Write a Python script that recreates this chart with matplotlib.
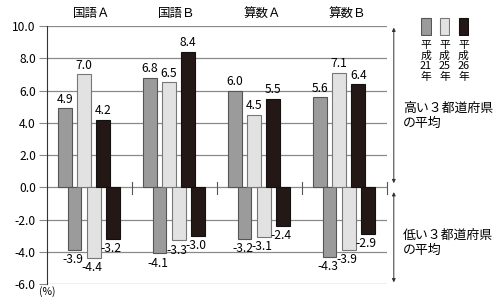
import numpy as np
import matplotlib.pyplot as plt

plt.rcParams['font.family'] = ['Noto Sans CJK JP', 'DejaVu Sans']

subjects = ['国語Ａ', '国語Ｂ', '算数Ａ', '算数Ｂ']
years = ['平\n成\n21\n年', '平\n成\n25\n年', '平\n成\n26\n年']
high = [[4.9, 6.8, 6.0, 5.6],    # 平成21年
        [7.0, 6.5, 4.5, 7.1],    # 平成25年
        [4.2, 8.4, 5.5, 6.4]]    # 平成26年
low = [[-3.9, -4.1, -3.2, -4.3],
       [-4.4, -3.3, -3.1, -3.9],
       [-3.2, -3.0, -2.4, -2.9]]
yticks = np.arange(-6, 10.1, 2)

colors = ['#9b9b9b', '#e2e2e2', '#231815']
edges = ['#555555', '#777777', '#111111']

fig = plt.figure(figsize=(5, 3), dpi=100)
ax = fig.add_axes([0.094, 0.0533, 0.68, 0.86])

x = np.arange(len(subjects))
w = 0.16
for k in range(3):
    xp = x + 0.21 + k * 0.226
    xn = x + 0.325 + k * 0.226
    ax.bar(xp, high[k], w, color=colors[k], edgecolor=edges[k], linewidth=0.8, zorder=3)
    ax.bar(xn, low[k], w, color=colors[k], edgecolor=edges[k], linewidth=0.8, zorder=3)
    for xi, v in zip(xp, high[k]):
        ax.text(xi, v + 0.15, f'{v:.1f}', ha='center', va='bottom', fontsize=8.7, zorder=4)
    for xi, v in zip(xn, low[k]):
        ax.text(xi - 0.02, v - 0.2, f'{v:.1f}', ha='center', va='top', fontsize=8.7, zorder=4)

for i, s in enumerate(subjects):
    ax.text(i + 0.53, 10.8, s, ha='center', va='center', fontsize=9)

# short marks on zero line between groups
for b in range(1, len(subjects) + 1):
    ax.plot([b, b], [0.3, -0.4], color='#555555', lw=0.8, zorder=2, clip_on=False)

ax.set_xlim(0, 4)
ax.set_ylim(-6, 10)
ax.set_yticks(yticks)
ax.set_yticklabels([f'{t:.1f}' for t in yticks], fontsize=8.7)
ax.set_xticks([])
ax.grid(axis='y', color='#8a8a8a', lw=0.9, zorder=0)
ax.tick_params(axis='y', length=6, color='#8a8a8a', pad=2)
for sp in ['top', 'right', 'bottom']:
    ax.spines[sp].set_visible(False)
ax.spines['left'].set_color('#333333')
ax.text(-0.1, -6.15, '(%)', ha='left', va='top', fontsize=7.5)

# side arrows
ap = dict(arrowstyle='<|-|>', color='#333333', lw=0.7, mutation_scale=5, shrinkA=0, shrinkB=0)
ax.annotate('', xy=(4.08, 9.9), xytext=(4.08, 0.25), arrowprops=ap, annotation_clip=False)
ax.annotate('', xy=(4.08, -0.3), xytext=(4.08, -5.9), arrowprops=ap, annotation_clip=False)
fig.text(0.806, 0.613, '高い３都道府県\nの平均', ha='left', va='center', fontsize=9.3, linespacing=1.25)
fig.text(0.806, 0.19, '低い３都道府県\nの平均', ha='left', va='center', fontsize=9.3, linespacing=1.25)

# legend
for k, cx in enumerate([0.852, 0.889, 0.927]):
    lax = fig.add_axes([cx - 0.011, 0.88, 0.022, 0.063])
    lax.set_xlim(0, 1)
    lax.set_ylim(0, 1)
    lax.add_patch(plt.Rectangle((0.05, 0.03), 0.9, 0.94, facecolor=colors[k], edgecolor=edges[k], lw=0.8))
    lax.axis('off')
    fig.text(cx, 0.868, years[k], ha='center', va='top', fontsize=7.8, linespacing=1.08)

fig.savefig('out.png', dpi=100)
